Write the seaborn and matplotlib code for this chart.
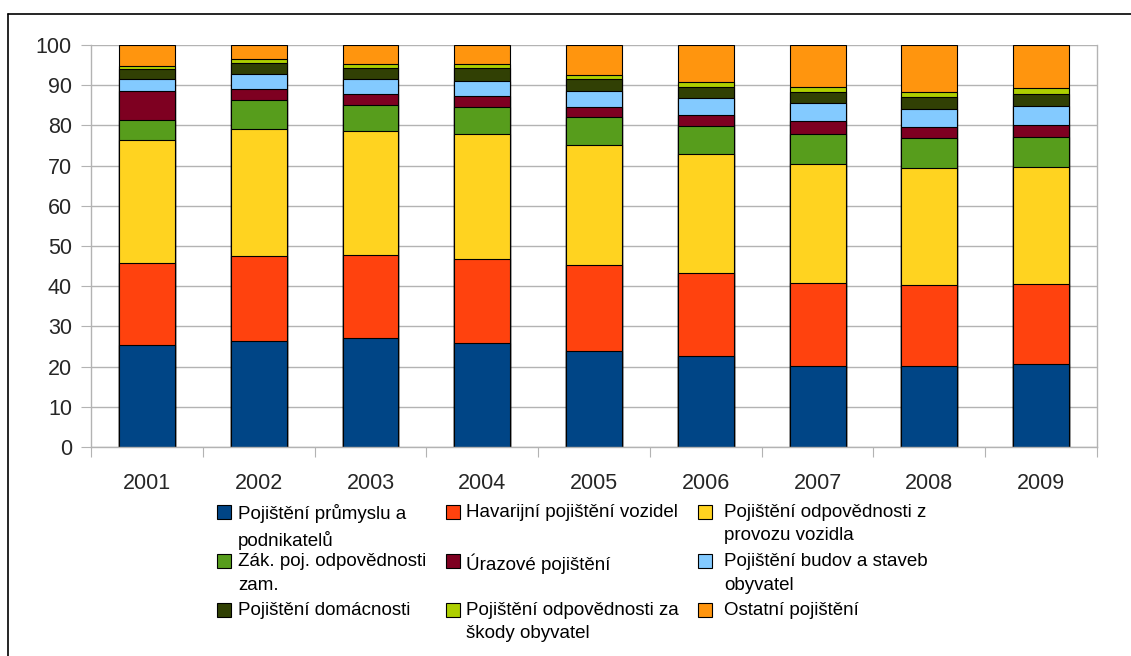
import matplotlib
matplotlib.use("Agg")
import matplotlib.pyplot as plt
import numpy as np
import pandas as pd
import seaborn as sns
from matplotlib.patches import Rectangle
from matplotlib.lines import Line2D

# ---- data (shares in %) ----
years = ["2001", "2002", "2003", "2004", "2005", "2006", "2007", "2008", "2009"]
prumysl = [25.3, 26.3, 27.0, 25.8, 24.0, 22.6, 20.2, 20.1, 20.6]
havarijni = [20.5, 21.1, 20.8, 21.0, 21.2, 20.8, 20.6, 20.3, 20.0]
povinne_ruceni = [30.5, 31.6, 30.7, 31.0, 30.0, 29.6, 29.7, 28.9, 29.1]
zakonne_zam = [5.0, 7.2, 6.5, 6.7, 6.8, 6.9, 7.3, 7.5, 7.3]
urazove = [7.2, 2.9, 2.8, 2.8, 2.7, 2.8, 3.3, 2.9, 3.1]
budovy = [3.0, 3.8, 3.7, 3.8, 3.9, 4.1, 4.4, 4.5, 4.7]
domacnosti = [2.5, 2.5, 2.7, 3.1, 2.9, 2.8, 2.8, 2.9, 3.0]
odpovednost_obyv = [0.9, 1.0, 1.0, 1.1, 1.0, 1.1, 1.3, 1.2, 1.6]
ostatni = [5.1, 3.6, 4.8, 4.7, 7.5, 9.3, 10.4, 11.7, 10.6]

series_labels = [
    "Pojištění průmyslu a\npodnikatelů",
    "Havarijní pojištění vozidel",
    "Pojištění odpovědnosti z\nprovozu vozidla",
    "Zák. poj. odpovědnosti\nzam.",
    "Úrazové pojištění",
    "Pojištění budov a staveb\nobyvatel",
    "Pojištění domácnosti",
    "Pojištění odpovědnosti za\nškody obyvatel",
    "Ostatní pojištění",
]
series_values = [prumysl, havarijni, povinne_ruceni, zakonne_zam, urazove,
                 budovy, domacnosti, odpovednost_obyv, ostatni]
colors = ["#004586", "#ff420e", "#ffd320", "#579d1c", "#7e0021",
          "#83caff", "#314004", "#aecf00", "#ff950e"]

W, H = 1131, 656
fig = plt.figure(figsize=(W / 100, H / 100), dpi=100)
sns.set_style("white")
plt.rcParams["font.family"] = ["Liberation Sans", "DejaVu Sans"]

def fx(x):
    return x / W

def fy(y):
    return 1 - y / H

ax = fig.add_axes([fx(91), fy(447), fx(1097) - fx(91), fy(45) - fy(447)])

df = pd.DataFrame({"year": years})
cum = np.zeros(len(years))
cums = []
for vals in series_values:
    cum = cum + np.array(vals)
    cums.append(cum.copy())

# draw cumulative bars, from the top segment down
for i in range(len(series_values) - 1, -1, -1):
    d = df.copy()
    d["value"] = cums[i]
    sns.barplot(data=d, x="year", y="value", order=years, color=colors[i],
                saturation=1, width=0.5, edgecolor="black", linewidth=0.8,
                errorbar=None, ax=ax)

grid_c = "#b3b3b3"
ax.set_xlim(-0.5, len(years) - 0.5)
ax.set_ylim(0, 100)
ax.set_yticks(range(0, 101, 10))
ax.yaxis.grid(True, color=grid_c, linewidth=1.0)
ax.xaxis.grid(False)
ax.set_axisbelow(True)
ax.set_xlabel("")
ax.set_ylabel("")
for side in ["left", "bottom", "right"]:
    ax.spines[side].set_visible(True)
    ax.spines[side].set_color(grid_c)
    ax.spines[side].set_linewidth(1.0)
ax.spines["top"].set_visible(False)

ax.tick_params(axis="y", which="major", direction="out", length=7.2,
               width=0.8, color=grid_c, pad=6.5, labelsize=15.5, left=True)
ax.set_xticks(range(len(years)))
ax.set_xticklabels(years)
ax.tick_params(axis="x", which="major", length=0, pad=19, labelsize=15.5)
ax.set_xticks(np.arange(-0.5, len(years)), minor=True)
ax.tick_params(axis="x", which="minor", direction="out", length=7.2,
               width=0.8, color=grid_c, bottom=True)

# outer frame
fig.add_artist(Line2D([fx(8), fx(8)], [0, fy(14)], color="black", lw=1.2,
                      transform=fig.transFigure))
fig.add_artist(Line2D([fx(8), 1], [fy(14), fy(14)], color="black", lw=1.2,
                      transform=fig.transFigure))

# legend (manual, 3 columns, marker aligned to first text line)
col_marker_x = [217, 446, 698]
col_text_x = [238, 466, 724]
row_top = [505, 554, 603]
msz = 14
for k, (lab, c) in enumerate(zip(series_labels, colors)):
    r, cidx = divmod(k, 3)
    mx, my = col_marker_x[cidx], row_top[r]
    fig.add_artist(Rectangle((fx(mx), fy(my + msz)), msz / W, msz / H,
                             facecolor=c, edgecolor="black", linewidth=0.8,
                             transform=fig.transFigure))
    fig.text(fx(col_text_x[cidx]), fy(my - 1), lab, ha="left", va="top",
             fontsize=13.5, linespacing=1.5, color="black")

fig.savefig("out.png", dpi=100)
